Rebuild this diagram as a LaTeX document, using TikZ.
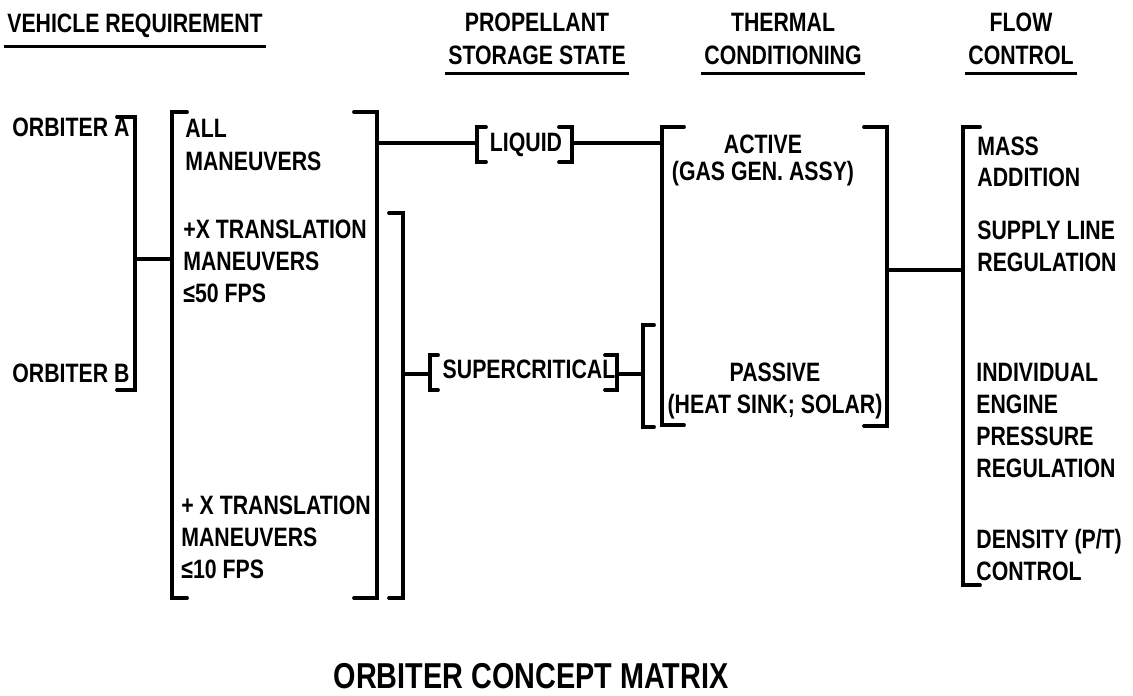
\documentclass[tikz,border=0pt]{standalone}
\usepackage{fontspec}
\setmainfont{Liberation Sans}[FakeStretch=0.8]
\begin{document}
\begin{tikzpicture}[
    x=0.5pt, y=-0.5pt,
    txt/.style={font=\fontsize{13.3}{16}\selectfont\bfseries, inner sep=0pt, align=left, anchor=base west},
    mid/.style={txt, align=center, anchor=base},
    hdr/.style={font=\fontsize{13.3}{16.5}\selectfont\bfseries, inner xsep=1.5pt, inner ysep=4pt, align=center, anchor=base},
    brk/.style={line width=1.9pt, line cap=round},
    rule/.style={line width=1.4pt},
]
    \useasboundingbox (0,0) rectangle (1133,695);

    % column headings (anchored on the last line)
    \node[hdr] (hvr) at (135,33) {VEHICLE REQUIREMENT};
    \node[hdr] (hps) at (537,65) {PROPELLANT\\STORAGE STATE};
    \node[hdr] (htc) at (783,65) {THERMAL\\CONDITIONING};
    \node[hdr] (hfc) at (1021,65) {FLOW\\CONTROL};
    \foreach \h in {hvr,hps,htc,hfc}
        \draw[rule] (\h.south west) -- (\h.south east);

    \node[txt] (orba) at (12,137) {ORBITER A};
    \node[txt] (orbb) at (12,382) {ORBITER B};
    \node[txt] (man1) at (185,171) {ALL\\[1pt]MANEUVERS};
    \node[txt] (man2) at (183,302) {+X TRANSLATION\\MANEUVERS\\≤50 FPS};
    \node[txt] (man3) at (181,578) {+ X TRANSLATION\\MANEUVERS\\≤10 FPS};
    \node[mid] (liq) at (526,152) {LIQUID};
    \node[mid] (sup) at (529,378) {SUPERCRITICAL};
    \node[mid] (act) at (763,181) {ACTIVE\\[-2.5pt](GAS GEN. ASSY)};
    \node[mid] (pas) at (775,413) {PASSIVE\\(HEAT SINK; SOLAR)};
    \node[txt] (fc1) at (977,187) {MASS\\ADDITION};
    \node[txt] (fc2) at (977,271) {SUPPLY LINE\\REGULATION};
    \node[txt] (fc3) at (976,477) {INDIVIDUAL\\ENGINE\\PRESSURE\\REGULATION};
    \node[txt] (fc4) at (976,580) {DENSITY (P/T)\\CONTROL};

    % brackets: x / top / bottom / tick
    \foreach \bx/\ya/\yb/\tk in {%
        135/117/390/-18, 172/112/598/15, 377/112/598/-23, 403/213/598/-14,%
        477/127/162/9, 572/127/162/-13, 430/355/390/8, 617/355/390/-12,%
        643/325/427/11, 662/127/425/22, 887/127/426/-23, 963/127/585/17%
    }{
        \draw[brk] (\bx+\tk,\ya) -- (\bx,\ya) -- (\bx,\yb) -- (\bx+\tk,\yb);
    }

    \coordinate (orbj) at (135,259);
    \coordinate (manl) at (172,259);
    \coordinate (manr) at (377,143);
    \coordinate (liql) at (477,143);
    \coordinate (liqr) at (572,143);
    \coordinate (thl) at (662,143);
    \coordinate (lowr) at (403,374);
    \coordinate (supl) at (430,374);
    \coordinate (supr) at (617,374);
    \coordinate (sml) at (643,374);
    \coordinate (thr) at (887,270);
    \coordinate (fcl) at (963,270);
    \draw[brk] (orbj) -- (manl);
    \draw[brk] (manr) -- (liql);
    \draw[brk] (liqr) -- (thl);
    \draw[brk] (lowr) -- (supl);
    \draw[brk] (supr) -- (sml);
    \draw[brk] (thr) -- (fcl);

    \node[font=\fontsize{18}{20}\selectfont\bfseries, anchor=base] (ttl) at (531,688) {ORBITER CONCEPT MATRIX};

\end{tikzpicture}
\end{document}
